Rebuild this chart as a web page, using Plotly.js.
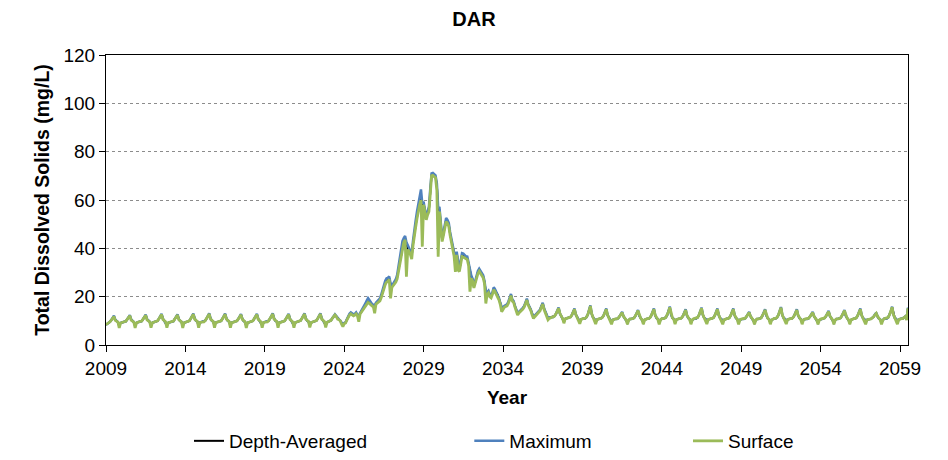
<!DOCTYPE html>
<html>
<head>
<meta charset="utf-8">
<script src="https://cdn.plot.ly/plotly-3.0.1.min.js"></script>
<style>html,body{margin:0;padding:0;background:#fff;}#chart{width:948px;height:460px;}</style>
</head>
<body>
<div id="chart"></div>
<script>
// Monthly series, January 2009 through July 2059 (one row per year, Jan..Dec)
const startYear = 2009;
const xTickLabels = ["2009","2014","2019","2024","2029","2034","2039","2044","2049","2054","2059"];
const seriesNames = ["Depth-Averaged", "Maximum", "Surface"];

const depthAveraged = [
8.4,8.7,9.2,9.6,10.3,11.2,11.8,10.5,9.8,9.5,8.1,9.1,
9.3,9.4,9.4,9.8,10.6,11.6,12.1,10.6,9.8,9.5,8.1,9.1,
9.4,9.5,9.5,9.9,10.7,11.7,12.3,10.7,9.9,9.6,8.2,9.2,
9.4,9.5,9.6,10.0,10.9,12.0,12.6,10.9,10.0,9.6,8.2,9.2,
9.4,9.5,9.5,9.9,10.8,11.8,12.4,10.8,9.9,9.6,8.1,9.2,
9.4,9.5,9.6,10.0,10.9,12.0,12.7,11.0,10.0,9.7,8.2,9.3,
9.5,9.6,9.6,10.1,11.0,12.1,12.8,11.0,10.0,9.7,8.2,9.3,
9.5,9.6,9.6,10.0,10.9,12.0,12.7,11.0,10.0,9.7,8.2,9.3,
9.4,9.5,9.6,10.0,10.8,11.9,12.5,10.9,9.9,9.6,8.1,9.2,
9.4,9.5,9.6,10.0,10.9,12.0,12.6,10.9,10.0,9.6,8.2,9.3,
9.5,9.6,9.6,10.1,11.0,12.1,12.8,11.0,10.0,9.7,8.2,9.3,
9.4,9.5,9.6,10.0,10.9,11.9,12.6,10.9,10.0,9.6,8.2,9.3,
9.5,9.6,9.7,10.1,11.0,12.1,12.8,11.0,10.0,9.7,8.3,9.3,
9.5,9.6,9.7,10.1,11.0,12.1,12.8,11.0,10.1,9.7,8.3,9.4,
9.6,9.8,10.2,11.0,12.0,12.4,11.8,11.0,10.5,10.0,9.2,8.4,
9.0,9.3,10.5,11.8,12.6,13.1,12.8,12.4,12.6,13.1,12.3,11.5,
13.0,13.8,14.6,15.6,16.5,17.3,17.9,17.5,16.8,16.5,16.2,16.0,
17.2,17.8,18.3,18.6,20.0,22.0,24.1,25.5,26.5,26.8,27.6,25.0,
24.1,24.8,25.6,26.5,28.0,31.0,35.2,38.5,41.5,43.0,44.1,41.5,
40.0,39.3,38.0,36.8,42.0,47.0,49.5,53.0,56.5,58.6,61.0,57.0,
58.6,55.0,52.4,54.5,55.9,63.0,70.3,70.5,70.0,69.6,66.0,56.0,
55.9,48.0,43.4,46.0,49.0,51.7,51.0,49.7,46.0,43.5,40.0,37.5,
35.0,37.9,34.0,31.0,34.0,37.2,37.0,36.5,36.0,35.9,33.5,30.0,
28.3,27.0,24.1,26.0,28.5,30.0,31.0,30.0,29.0,28.3,26.0,22.0,
21.5,22.1,20.5,20.0,21.5,23.4,22.5,21.5,20.7,19.0,17.0,15.5,
15.0,15.9,16.2,16.5,17.5,19.5,20.7,18.5,17.9,16.0,14.5,13.0,
13.5,14.0,14.5,15.2,16.0,17.5,18.9,16.8,15.9,14.5,12.8,11.8,
12.0,12.6,13.1,13.6,14.5,16.0,17.2,15.0,13.8,12.5,11.0,11.3,
11.4,11.5,11.6,12.0,12.9,14.0,15.2,13.0,11.8,11.2,9.8,10.8,
11.0,11.1,11.2,11.6,12.4,13.5,14.8,12.6,11.4,10.9,9.6,10.6,
10.9,11.0,11.0,11.5,12.5,13.9,16.1,12.9,11.4,10.8,9.5,10.5,
10.8,10.9,11.0,11.4,12.2,13.4,14.8,12.4,11.2,10.7,9.4,10.4,
10.7,10.8,10.8,11.1,11.8,12.6,13.4,11.9,11.0,10.6,9.3,10.3,
10.8,10.8,10.9,11.2,12.0,13.0,14.2,12.1,11.1,10.7,9.4,10.4,
10.8,10.9,10.9,11.3,12.2,13.4,14.8,12.3,11.1,10.7,9.3,10.4,
10.9,10.9,11.0,11.4,12.3,13.7,15.6,12.6,11.2,10.8,9.4,10.5,
10.8,10.9,10.9,11.3,12.1,13.3,14.5,12.2,11.1,10.7,9.4,10.4,
10.9,11.0,11.0,11.4,12.3,13.5,15.2,12.5,11.2,10.8,9.5,10.5,
10.8,10.9,11.0,11.3,12.2,13.4,14.8,12.4,11.1,10.7,9.4,10.4,
10.8,10.9,10.9,11.3,12.2,13.3,14.8,12.3,11.1,10.7,9.3,10.4,
10.7,10.8,10.8,11.1,11.8,12.6,13.4,11.9,11.0,10.6,9.3,10.3,
10.8,10.8,10.9,11.2,12.1,13.2,14.5,12.2,11.1,10.7,9.4,10.4,
10.9,11.0,11.0,11.4,12.3,13.6,15.4,12.5,11.2,10.8,9.5,10.5,
10.8,10.9,10.9,11.3,12.1,13.2,14.5,12.2,11.1,10.7,9.4,10.4,
10.7,10.8,10.8,11.1,11.8,12.6,13.4,11.9,11.0,10.6,9.3,10.3,
10.7,10.8,10.9,11.2,11.9,12.8,13.8,12.0,11.0,10.6,9.3,10.3,
10.8,10.8,10.9,11.2,12.0,13.0,14.2,12.1,11.1,10.7,9.4,10.4,
10.8,10.9,10.9,11.3,12.2,13.4,14.8,12.3,11.1,10.7,9.4,10.4,
10.7,10.7,10.8,11.1,11.7,12.5,13.1,11.8,10.9,10.6,9.3,10.3,
10.9,11.0,11.0,11.4,12.4,13.8,15.6,12.6,11.2,10.8,9.4,10.5,
10.8,10.9,10.9,11.3,11.8,10.5,15.2
];

const maximum = [
8.4,8.7,9.2,9.6,10.3,11.3,12.1,10.5,9.8,9.5,8.1,9.1,
9.3,9.4,9.4,9.8,10.6,11.7,12.4,10.6,9.8,9.5,8.1,9.1,
9.4,9.5,9.5,9.9,10.7,11.8,12.6,10.7,9.9,9.6,8.2,9.2,
9.4,9.5,9.6,10.0,10.9,12.1,12.9,10.9,10.0,9.6,8.2,9.2,
9.4,9.5,9.5,9.9,10.8,11.9,12.7,10.8,9.9,9.6,8.1,9.2,
9.4,9.5,9.6,10.0,10.9,12.1,13.0,11.0,10.0,9.7,8.2,9.3,
9.5,9.6,9.6,10.1,11.0,12.2,13.1,11.0,10.0,9.7,8.2,9.3,
9.5,9.6,9.6,10.0,10.9,12.1,13.0,11.0,10.0,9.7,8.2,9.3,
9.4,9.5,9.6,10.0,10.8,12.0,12.8,10.9,9.9,9.6,8.1,9.2,
9.4,9.5,9.6,10.0,10.9,12.1,12.9,10.9,10.0,9.6,8.2,9.3,
9.5,9.6,9.6,10.1,11.0,12.2,13.1,11.0,10.0,9.7,8.2,9.3,
9.4,9.5,9.6,10.0,10.9,12.0,12.9,10.9,10.0,9.6,8.2,9.3,
9.5,9.6,9.7,10.1,11.0,12.2,13.1,11.0,10.0,9.7,8.3,9.3,
9.5,9.6,9.7,10.1,11.0,12.2,13.1,11.0,10.1,9.7,8.3,9.4,
9.6,9.8,10.2,11.1,12.2,12.7,12.0,11.1,10.6,10.1,9.3,8.5,
9.1,9.4,10.6,12.0,12.9,13.5,13.2,12.7,12.9,13.5,12.6,11.7,
13.2,14.1,15.0,16.1,17.2,18.4,19.4,18.6,17.5,17.0,16.6,16.3,
17.5,18.2,18.8,19.3,20.9,23.0,25.2,26.6,27.6,27.8,28.4,25.6,
24.5,25.3,26.2,27.2,29.0,32.3,36.6,40.0,43.0,44.2,45.1,42.5,
40.8,40.1,38.8,37.6,43.3,48.6,51.5,55.3,59.0,61.5,64.4,58.5,
59.3,55.8,53.2,55.4,57.2,64.5,71.0,71.2,70.6,70.2,67.0,57.0,
56.8,48.8,44.1,46.8,49.9,52.6,51.8,50.5,46.8,44.3,40.8,38.2,
35.6,38.6,34.6,31.6,34.7,38.0,37.8,37.2,36.7,36.6,34.2,30.6,
28.8,27.5,24.6,26.5,29.1,30.6,31.6,30.6,29.6,28.9,26.5,22.4,
21.9,22.5,20.9,20.4,21.9,23.9,23.0,21.9,21.1,19.4,17.3,15.8,
15.3,16.2,16.5,16.8,17.9,19.9,21.1,18.9,18.2,16.3,14.8,13.3,
13.7,14.2,14.7,15.4,16.2,17.8,19.2,17.0,16.1,14.7,13.0,12.0,
12.2,12.8,13.3,13.8,14.7,16.2,17.5,15.2,14.0,12.7,11.2,11.5,
11.4,11.5,11.6,12.0,12.9,14.1,15.5,13.0,11.8,11.2,9.8,10.8,
11.0,11.1,11.2,11.6,12.4,13.6,15.1,12.6,11.4,10.9,9.6,10.6,
10.9,11.0,11.0,11.5,12.5,14.0,16.4,12.9,11.4,10.8,9.5,10.5,
10.8,10.9,11.0,11.4,12.2,13.5,15.1,12.4,11.2,10.7,9.4,10.4,
10.7,10.8,10.8,11.1,11.8,12.7,13.7,11.9,11.0,10.6,9.3,10.3,
10.8,10.8,10.9,11.2,12.0,13.1,14.5,12.1,11.1,10.7,9.4,10.4,
10.8,10.9,10.9,11.3,12.2,13.5,15.1,12.3,11.1,10.7,9.3,10.4,
10.9,10.9,11.0,11.4,12.3,13.8,15.9,12.6,11.2,10.8,9.4,10.5,
10.8,10.9,10.9,11.3,12.1,13.4,14.8,12.2,11.1,10.7,9.4,10.4,
10.9,11.0,11.0,11.4,12.3,13.6,15.5,12.5,11.2,10.8,9.5,10.5,
10.8,10.9,11.0,11.3,12.2,13.5,15.1,12.4,11.1,10.7,9.4,10.4,
10.8,10.9,10.9,11.3,12.2,13.4,15.1,12.3,11.1,10.7,9.3,10.4,
10.7,10.8,10.8,11.1,11.8,12.7,13.7,11.9,11.0,10.6,9.3,10.3,
10.8,10.8,10.9,11.2,12.1,13.3,14.8,12.2,11.1,10.7,9.4,10.4,
10.9,11.0,11.0,11.4,12.3,13.7,15.7,12.5,11.2,10.8,9.5,10.5,
10.8,10.9,10.9,11.3,12.1,13.3,14.8,12.2,11.1,10.7,9.4,10.4,
10.7,10.8,10.8,11.1,11.8,12.7,13.7,11.9,11.0,10.6,9.3,10.3,
10.7,10.8,10.9,11.2,11.9,12.9,14.1,12.0,11.0,10.6,9.3,10.3,
10.8,10.8,10.9,11.2,12.0,13.1,14.5,12.1,11.1,10.7,9.4,10.4,
10.8,10.9,10.9,11.3,12.2,13.5,15.1,12.3,11.1,10.7,9.4,10.4,
10.7,10.7,10.8,11.1,11.7,12.6,13.4,11.8,10.9,10.6,9.3,10.3,
10.9,11.0,11.0,11.4,12.4,13.9,15.9,12.6,11.2,10.8,9.4,10.5,
10.8,10.9,10.9,11.3,11.8,10.5,15.5
];

const surface = [
8.4,8.7,9.2,9.6,10.3,11.2,11.8,10.2,9.8,9.5,7.1,9.1,
9.3,9.4,9.4,9.8,10.6,11.6,12.1,10.3,9.8,9.5,7.1,9.1,
9.4,9.5,9.5,9.9,10.7,11.7,12.3,10.4,9.9,9.6,7.2,9.2,
9.4,9.5,9.6,10.0,10.9,12.0,12.6,10.6,10.0,9.6,7.2,9.2,
9.4,9.5,9.5,9.9,10.8,11.8,12.4,10.5,9.9,9.6,7.1,9.2,
9.4,9.5,9.6,10.0,10.9,12.0,12.7,10.7,10.0,9.7,7.2,9.3,
9.5,9.6,9.6,10.1,11.0,12.1,12.8,10.7,10.0,9.7,7.2,9.3,
9.5,9.6,9.6,10.0,10.9,12.0,12.7,10.7,10.0,9.7,7.2,9.3,
9.4,9.5,9.6,10.0,10.8,11.9,12.5,10.6,9.9,9.6,7.1,9.2,
9.4,9.5,9.6,10.0,10.9,12.0,12.6,10.6,10.0,9.6,7.2,9.3,
9.5,9.6,9.6,10.1,11.0,12.1,12.8,10.7,10.0,9.7,7.2,9.3,
9.4,9.5,9.6,10.0,10.9,11.9,12.6,10.6,10.0,9.6,7.2,9.3,
9.5,9.6,9.7,10.1,11.0,12.1,12.8,10.7,10.0,9.7,7.3,9.3,
9.5,9.6,9.7,10.1,11.0,12.1,12.8,10.7,10.1,9.7,7.3,9.4,
9.6,9.8,10.2,11.0,12.0,12.4,11.8,10.7,10.5,10.0,8.6,7.6,
8.8,9.1,10.3,11.6,12.4,12.9,12.6,12.1,12.4,12.9,12.0,9.6,
12.8,13.6,14.4,15.4,16.3,17.0,17.6,17.2,16.5,16.2,15.8,13.1,
16.9,17.5,18.0,18.3,19.6,21.5,23.6,25.0,26.0,26.4,27.2,19.3,
23.8,24.4,25.2,26.0,27.4,30.4,34.6,37.8,40.8,42.4,43.5,28.3,
39.4,38.8,37.4,35.5,41.3,46.2,48.8,52.3,55.7,58.0,60.0,40.7,
58.0,54.4,51.8,53.8,55.2,62.3,70.0,70.2,69.6,69.2,64.0,36.5,
55.2,47.4,42.8,45.4,48.4,51.1,50.4,49.1,45.4,42.9,39.4,36.8,
30.3,37.3,31.0,30.4,33.4,36.6,36.4,35.9,35.4,35.3,32.8,22.1,
27.6,26.5,23.6,25.5,28.0,29.5,30.5,29.5,28.5,27.8,25.5,17.2,
21.0,21.6,20.0,19.5,21.0,22.9,22.0,21.0,20.2,18.6,16.6,13.8,
14.7,15.6,15.9,16.2,17.2,19.2,20.4,18.2,17.6,15.7,14.2,12.4,
13.2,13.7,14.2,14.9,15.7,17.2,18.6,16.5,15.6,14.2,12.4,11.0,
11.7,12.3,12.8,13.3,14.2,15.7,16.9,14.7,13.5,12.2,10.4,11.0,
11.4,11.5,11.6,12.0,12.9,14.0,15.2,13.0,11.8,11.0,9.0,10.8,
11.0,11.1,11.2,11.6,12.4,13.5,14.8,12.6,11.4,10.7,8.8,10.6,
10.9,11.0,11.0,11.5,12.5,13.9,16.1,12.9,11.4,10.6,8.7,10.5,
10.8,10.9,11.0,11.4,12.2,13.4,14.8,12.4,11.2,10.5,8.6,10.4,
10.7,10.8,10.8,11.1,11.8,12.6,13.4,11.9,11.0,10.4,8.5,10.3,
10.8,10.8,10.9,11.2,12.0,13.0,14.2,12.1,11.1,10.5,8.6,10.4,
10.8,10.9,10.9,11.3,12.2,13.4,14.8,12.3,11.1,10.5,8.5,10.4,
10.9,10.9,11.0,11.4,12.3,13.7,15.6,12.6,11.2,10.6,8.6,10.5,
10.8,10.9,10.9,11.3,12.1,13.3,14.5,12.2,11.1,10.5,8.6,10.4,
10.9,11.0,11.0,11.4,12.3,13.5,15.2,12.5,11.2,10.6,8.7,10.5,
10.8,10.9,11.0,11.3,12.2,13.4,14.8,12.4,11.1,10.5,8.6,10.4,
10.8,10.9,10.9,11.3,12.2,13.3,14.8,12.3,11.1,10.5,8.5,10.4,
10.7,10.8,10.8,11.1,11.8,12.6,13.4,11.9,11.0,10.4,8.5,10.3,
10.8,10.8,10.9,11.2,12.1,13.2,14.5,12.2,11.1,10.5,8.6,10.4,
10.9,11.0,11.0,11.4,12.3,13.6,15.4,12.5,11.2,10.6,8.7,10.5,
10.8,10.9,10.9,11.3,12.1,13.2,14.5,12.2,11.1,10.5,8.6,10.4,
10.7,10.8,10.8,11.1,11.8,12.6,13.4,11.9,11.0,10.4,8.5,10.3,
10.7,10.8,10.9,11.2,11.9,12.8,13.8,12.0,11.0,10.4,8.5,10.3,
10.8,10.8,10.9,11.2,12.0,13.0,14.2,12.1,11.1,10.5,8.6,10.4,
10.8,10.9,10.9,11.3,12.2,13.4,14.8,12.3,11.1,10.5,8.6,10.4,
10.7,10.7,10.8,11.1,11.7,12.5,13.1,11.8,10.9,10.4,8.5,10.3,
10.9,11.0,11.0,11.4,12.4,13.8,15.6,12.6,11.2,10.6,8.6,10.5,
10.8,10.9,10.9,11.3,11.8,10.3,15.2
];

// time axis: decimal year of each monthly value
const months = depthAveraged.map((_, i) => startYear + i / 12);
const tickVals = xTickLabels.map(Number);

const FONT = '"Liberation Sans", Arial, sans-serif';

const traces = [
  {x: months, y: depthAveraged, name: seriesNames[0], type: 'scatter', mode: 'lines',
   line: {color: '#000000', width: 2}, legend: 'legend'},
  {x: months, y: maximum, name: seriesNames[1], type: 'scatter', mode: 'lines',
   line: {color: '#4F81BD', width: 2.5}, legend: 'legend2'},
  {x: months, y: surface, name: seriesNames[2], type: 'scatter', mode: 'lines',
   line: {color: '#9BBB59', width: 2.8}, legend: 'legend3'}
];

const legendBase = {orientation: 'h', yanchor: 'middle', xanchor: 'left', y: -0.331,
  font: {family: FONT, size: 19, color: '#000'}, bgcolor: 'rgba(0,0,0,0)', itemwidth: 30,
  tracegroupgap: 0};

const layout = {
  width: 948, height: 460,
  margin: {l: 106, r: 40, t: 55, b: 115, autoexpand: false},
  paper_bgcolor: '#ffffff', plot_bgcolor: '#ffffff',
  font: {family: FONT, size: 19, color: '#000'},
  title: {text: '<b>DAR</b>', x: 0.5, xref: 'container', xanchor: 'center',
          y: 0.9587, yref: 'container', yanchor: 'middle',
          font: {family: FONT, size: 20, color: '#000'}},
  showlegend: true,
  legend: Object.assign({}, legendBase, {x: 0.1035}),
  legend2: Object.assign({}, legendBase, {x: 0.453}),
  legend3: Object.assign({}, legendBase, {x: 0.7257}),
  xaxis: {
    range: [2009, 2059.5], tickmode: 'array', tickvals: tickVals, ticktext: xTickLabels,
    showgrid: false, zeroline: false,
    showline: true, linecolor: '#000', linewidth: 1, mirror: true,
    ticks: 'outside', ticklen: 6, tickcolor: '#000', tickwidth: 1,
    tickfont: {family: FONT, size: 19, color: '#000'},
    title: {text: '<b>Year</b>', font: {family: FONT, size: 19, color: '#000'}, standoff: 12}
  },
  yaxis: {
    range: [0, 120], tickvals: [0, 20, 40, 60, 80, 100, 120],
    showgrid: true, gridcolor: '#8c8c8c', gridwidth: 1, griddash: 'dot',
    zeroline: true, zerolinecolor: '#262626', zerolinewidth: 2,
    showline: true, linecolor: '#000', linewidth: 1, mirror: true,
    ticks: 'outside', ticklen: 6, tickcolor: '#000', tickwidth: 1,
    tickfont: {family: FONT, size: 19, color: '#000'},
    title: {text: '<b>Total Dissolved Solids (mg/L)</b>', font: {family: FONT, size: 19.5, color: '#000'}, standoff: 8}
  }
};

Plotly.newPlot('chart', traces, layout, {displayModeBar: false, staticPlot: true});
</script>
</body>
</html>
